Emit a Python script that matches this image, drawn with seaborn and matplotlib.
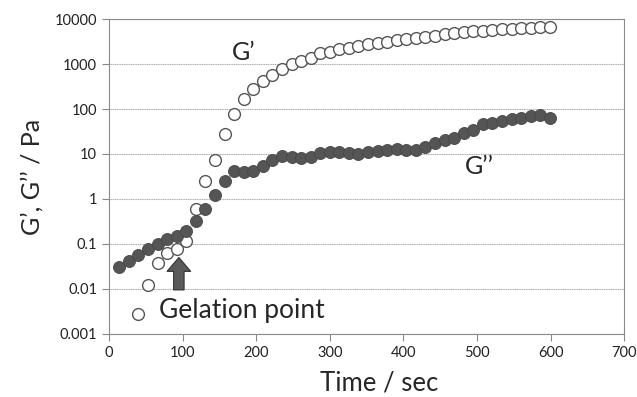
import numpy as np
import pandas as pd
import matplotlib
matplotlib.use("Agg")
import matplotlib.pyplot as plt
from matplotlib.ticker import FixedLocator, FixedFormatter
import seaborn as sns

# time points (sec)
time_s = [14, 27, 40, 53, 66, 79, 92, 105, 118, 131, 144, 157, 170, 183, 196,
          209, 222, 235, 248, 261, 274, 287, 300, 313, 326, 339, 352, 365, 378,
          391, 404, 417, 430, 443, 456, 469, 482, 495, 508, 521, 534, 547, 560,
          573, 586, 599]

# G'' (loss modulus), all time points
g_loss = [0.031, 0.041, 0.056, 0.077, 0.10, 0.127, 0.151, 0.198, 0.33, 0.59,
          1.25, 2.45, 4.2, 4.0, 4.25, 5.5, 7.4, 9.0, 8.5, 8.0, 8.7, 10.4, 11.2,
          11.1, 10.7, 9.8, 10.9, 11.8, 12.3, 12.7, 12.3, 12.3, 14.1, 17.3, 20.5,
          23, 29.7, 34.1, 45.7, 49.6, 54.1, 59, 62, 70, 73.6, 62]

# G' (storage modulus), starts at the third time point
g_store = [0.0028, 0.0121, 0.038, 0.062, 0.076, 0.119, 0.61, 2.5, 7.4, 27.4,
           76, 164, 274, 419, 560, 762, 985, 1166, 1380, 1727, 1876, 2154, 2300,
           2512, 2740, 2950, 3130, 3350, 3560, 3800, 4050, 4300, 4550, 4800,
           5050, 5300, 5550, 5750, 5950, 6150, 6300, 6450, 6600, 6750]

y_ticks = [0.001, 0.01, 0.1, 1, 10, 100, 1000, 10000]
y_tick_labels = ["0.001", "0.01", "0.1", "1", "10", "100", "1000", "10000"]
x_ticks = [0, 100, 200, 300, 400, 500, 600, 700]

df_loss = pd.DataFrame({"time": time_s, "value": g_loss})
df_store = pd.DataFrame({"time": time_s[2:], "value": g_store})

sns.set_style("white")
plt.rcParams["font.family"] = ["Lato", "DejaVu Sans"]

fig = plt.figure(figsize=(6.37, 3.97), dpi=100)
ax = fig.add_axes([0.171, 0.159, 0.809, 0.793])

ax.set_yscale("log")
ax.set_ylim(0.001, 10000)
ax.set_xlim(0, 700)

ax.yaxis.grid(True, color="#a8a8a8", linewidth=0.8, linestyle=(0, (1, 0.6)))
ax.set_axisbelow(True)

sns.scatterplot(data=df_store, x="time", y="value", ax=ax, s=72,
                facecolor="white", edgecolor="#555555", linewidth=1.0, zorder=3)
sns.scatterplot(data=df_loss, x="time", y="value", ax=ax, s=75,
                color="#555555", edgecolor="#474747", linewidth=0.6, zorder=4)

ax.yaxis.set_major_locator(FixedLocator(y_ticks))
ax.yaxis.set_major_formatter(FixedFormatter(y_tick_labels))
ax.yaxis.set_minor_locator(FixedLocator([]))
ax.set_xticks(x_ticks)

ax.tick_params(axis="both", which="major", labelsize=10.5, colors="#888888",
               labelcolor="#222222", length=5, width=0.8, direction="out",
               left=True, bottom=True)

for side in ["left", "bottom", "right", "top"]:
    ax.spines[side].set_color("#8a8a8a")
    ax.spines[side].set_linewidth(0.8)

ax.set_xlabel("Time / sec", fontsize=18.5, labelpad=5)
ax.xaxis.set_label_coords(0.525, -0.115)
ax.set_ylabel("G’, G’’ / Pa", fontsize=18, labelpad=8)

ax.text(167, 1850, "G’", fontsize=18, va="center", ha="left")
ax.text(484, 5.4, "G’’", fontsize=18, va="center", ha="left")
ax.text(68, 0.0033, "Gelation point", fontsize=19, va="center", ha="left")

ax.annotate("", xy=(95, 0.05), xytext=(95, 0.0095),
            arrowprops=dict(arrowstyle="simple,head_width=1.7,head_length=1.0,tail_width=0.75",
                            facecolor="#5a5a5a", edgecolor="#333333", linewidth=0.8,
                            shrinkA=0, shrinkB=0))

fig.savefig("out.png", dpi=100)
